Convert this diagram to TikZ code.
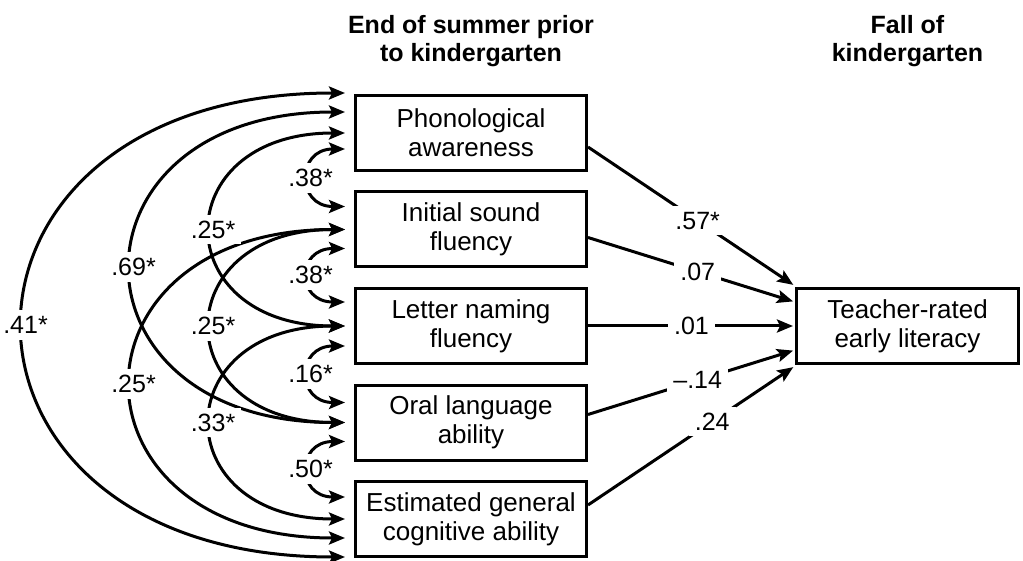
\documentclass[tikz,border=0pt]{standalone}
\usepackage{fontspec}
\setmainfont{Liberation Sans}
\usetikzlibrary{arrows.meta,positioning}

\begin{document}
\begin{tikzpicture}[node distance=9.25pt, line width=1.5pt,
    every node/.style={font=\fontsize{13}{14.5}\selectfont},
    box/.style={rectangle, draw, line width=1.5pt, minimum width=115.5pt, minimum height=37.5pt, align=center},
    head/.style={align=center, font=\fontsize{12.5}{14}\selectfont\bfseries},
    coef/.style={fill=white, inner sep=3pt, font=\fontsize{12.5}{13}\selectfont},
    tip/.style={-{Stealth[length=8pt,width=6.5pt,inset=1.5pt]}, shorten >=1pt},
    cov/.style={{Stealth[length=8pt,width=6.5pt,inset=1.5pt]}-{Stealth[length=8pt,width=6.5pt,inset=1.5pt]}, shorten <=4.5pt, shorten >=4.5pt, out=180, in=180}]

    \useasboundingbox (0,0) rectangle (511.5pt,-280.5pt);

    % measured boxes, first wave
    \node[box] (phon) at (235.5pt,-66.5pt) {Phonological\\awareness};
    \node[box, below=of phon] (isf) {Initial sound\\fluency};
    \node[box, below=of isf] (lnf) {Letter naming\\fluency};
    \node[box, below=of lnf] (oral) {Oral language\\ability};
    \node[box, below=of oral] (cog) {Estimated general\\cognitive ability};

    % outcome in the fall
    \node[box, minimum width=111pt, right=103.5pt of lnf] (lit) {Teacher-rated\\early literacy};

    \node[head, above=9.5pt of phon] (summer) {End of summer prior\\to kindergarten};
    \node[head] (fall) at (summer -| lit) {Fall of\\kindergarten};

    % correlations
    \draw[cov, distance=219pt] ([yshift=20pt]phon.west) to node[coef]{.41*} ([yshift=-19pt]cog.west);
    \draw[cov, distance=147pt] ([yshift=10.5pt]phon.west) to node[coef]{.69*} (oral.west);
    \draw[cov, distance=147pt] (isf.west) to node[coef]{.25*} ([yshift=-9.5pt]cog.west);
    \draw[cov, distance=94pt] (phon.west) to node[coef]{.25*} (lnf.west);
    \draw[cov, distance=94pt] (isf.west) to node[coef]{.25*} (oral.west);
    \draw[cov, distance=94pt] (lnf.west) to node[coef]{.33*} (cog.west);
    \draw[cov, distance=29pt] ([yshift=-8pt]phon.west) to node[coef]{.38*} ([yshift=11.5pt]isf.west);
    \draw[cov, distance=29pt] ([yshift=-9.5pt]isf.west) to node[coef]{.38*} ([yshift=12pt]lnf.west);
    \draw[cov, distance=29pt] ([yshift=-10pt]lnf.west) to node[coef]{.16*} ([yshift=10pt]oral.west);
    \draw[cov, distance=29pt] ([yshift=-9.5pt]oral.west) to node[coef]{.50*} ([yshift=11pt]cog.west);

    % paths to the outcome
    \draw[tip] ([yshift=-7pt]phon.east) -- node[coef, pos=.53]{.57*} ([yshift=20pt]lit.west);
    \draw[tip] ([yshift=-4pt]isf.east) -- node[coef, pos=.53]{.07} ([yshift=12pt]lit.west);
    \draw[tip] (lnf) -- node[coef]{.01} (lit);
    \draw[tip] ([yshift=4pt]oral.east) -- node[coef, pos=.53]{–.14} ([yshift=-12pt]lit.west);
    \draw[tip] ([yshift=7pt]cog.east) -- node[coef, pos=.6]{.24} ([yshift=-20pt]lit.west);
\end{tikzpicture}
\end{document}
